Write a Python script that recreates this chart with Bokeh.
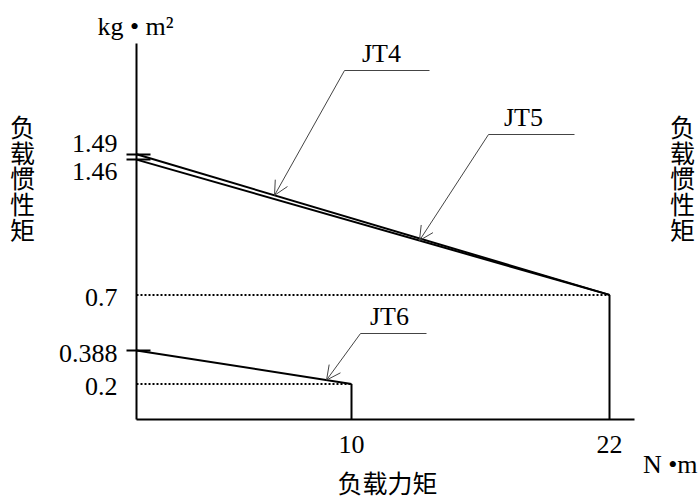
import numpy as np
from bokeh.plotting import figure
from bokeh.models import Range1d, FixedTicker, Label, Arrow, OpenHead
from bokeh.embed import file_html
from bokeh.resources import INLINE

# ---- data ----
series_names = ["JT4", "JT5", "JT6"]
torque_jt4 = [0, 22]
inertia_jt4 = [1.49, 0.7]
torque_jt5 = [0, 22]
inertia_jt5 = [1.46, 0.7]
torque_jt6 = [0, 10]
inertia_jt6 = [0.388, 0.2]

y_tick_values = [1.49, 1.46, 0.7, 0.388, 0.2]
y_tick_labels = ["1.49", "1.46", "0.7", "0.388", "0.2"]
y_marked_ticks = [1.49, 1.46, 0.388]
x_tick_values = [10, 22]
x_tick_labels = ["10", "22"]

# ---- layout (the frame fills the whole canvas; axes sit at data 0) ----
W, H = 699, 501
X0_PX, Y0_PX = 136, 419          # canvas px of data origin
PXX, PXY = 21.5, 178.0           # px per data unit
AX_RIGHT_PX, AX_TOP_PX = 634, 43


def dx(px):
    return (px - X0_PX) / PXX


def dy(py):
    return (Y0_PX - py) / PXY


SERIF = "Liberation Serif"
CJK = "Noto Sans CJK SC"
INK = "black"
LEAD = "#444444"

p = figure(width=W, height=H,
           x_range=Range1d(dx(0), dx(W)), y_range=Range1d(dy(H), dy(0)),
           output_backend="svg", toolbar_location=None)
p.min_border = 0
p.xgrid.visible = False
p.ygrid.visible = False
p.outline_line_color = None
p.background_fill_color = "white"
p.border_fill_color = "white"

# axes, pinned at the origin
p.yaxis.fixed_location = 0
p.yaxis.bounds = (0, dy(AX_TOP_PX))
p.yaxis.ticker = FixedTicker(ticks=y_marked_ticks)
p.yaxis.major_tick_in = 14
p.yaxis.major_tick_out = 10
p.yaxis.major_tick_line_width = 2
p.yaxis.major_tick_line_color = INK
p.yaxis.minor_tick_line_color = None
p.yaxis.major_label_text_color = None
p.yaxis.axis_line_width = 2
p.yaxis.axis_line_color = INK

p.xaxis.fixed_location = 0
p.xaxis.bounds = (0, dx(AX_RIGHT_PX))
p.xaxis.ticker = FixedTicker(ticks=x_tick_values)
p.xaxis.major_label_overrides = {v: s for v, s in zip(x_tick_values, x_tick_labels)}
p.xaxis.major_tick_in = 0
p.xaxis.major_tick_out = 0
p.xaxis.minor_tick_line_color = None
p.xaxis.major_label_standoff = 16
p.xaxis.major_label_text_font = SERIF
p.xaxis.major_label_text_font_size = "26px"
p.xaxis.major_label_text_color = INK
p.xaxis.axis_line_width = 2
p.xaxis.axis_line_color = INK

# curves
series = [(torque_jt4, inertia_jt4), (torque_jt5, inertia_jt5), (torque_jt6, inertia_jt6)]
for xs, ys in series:
    p.line(xs, ys, line_width=2, line_color=INK)

# drop lines and dotted guides at the curve ends
ends = [(torque_jt4[-1], inertia_jt4[-1]), (torque_jt6[-1], inertia_jt6[-1])]
p.segment(x0=[e[0] for e in ends], y0=[e[1] for e in ends],
          x1=[e[0] for e in ends], y1=[0 for _ in ends], line_width=2, line_color=INK)
p.segment(x0=[0 for _ in ends], y0=[e[1] for e in ends],
          x1=[e[0] for e in ends], y1=[e[1] for e in ends],
          line_width=2, line_color=INK, line_dash="2 2")

# y tick labels
nudge = {"1.49": -14, "1.46": 9}
for v, s in zip(y_tick_values, y_tick_labels):
    py = Y0_PX - v * PXY + 3 + nudge.get(s, 0)
    p.add_layout(Label(x=dx(117), y=dy(py), text=s, text_align="right",
                       text_baseline="middle", text_font=SERIF,
                       text_font_size="26px", text_color=INK))

# leaders with series names
leader = {
    "JT4": dict(tip=6.42, ul=(344, 429, 70), txt=(381, 53)),
    "JT5": dict(tip=13.16, ul=(488, 574, 134), txt=(523, 117)),
    "JT6": dict(tip=8.84, ul=(360, 426, 333), txt=(389, 316)),
}
for name, (xs, ys) in zip(series_names, series):
    c = leader[name]
    xt = c["tip"]
    yt = float(np.interp(xt, xs, ys))
    x0, x1, uy = c["ul"]
    p.add_layout(Arrow(start=None, end=None, x_start=dx(x0), y_start=dy(uy),
                       x_end=dx(x1), y_end=dy(uy), line_width=1, line_color=LEAD))
    p.add_layout(Arrow(start=None,
                       end=OpenHead(size=14, line_width=1, line_color=LEAD),
                       x_start=dx(x0), y_start=dy(uy), x_end=xt, y_end=yt,
                       line_width=1, line_color=LEAD))
    tx, ty = c["txt"]
    p.add_layout(Label(x=dx(tx), y=dy(ty), text=name, text_align="center",
                       text_baseline="middle", text_font=SERIF,
                       text_font_size="26px", text_color=INK))

# units and axis titles
p.add_layout(Label(x=dx(135), y=dy(26), text="kg • m²", text_align="center",
                   text_baseline="middle", text_font=SERIF, text_font_size="26px",
                   text_color=INK))
p.add_layout(Label(x=dx(697), y=dy(464), text="N •m", text_align="right",
                   text_baseline="middle", text_font=SERIF, text_font_size="26px",
                   text_color=INK))
p.add_layout(Label(x=dx(387), y=dy(481), text="负载力矩", text_align="center",
                   text_baseline="middle", text_font=CJK, text_font_size="25px",
                   text_color=INK))
vert = "\n".join("负载惯性矩")
for cx in (22, 682):
    p.add_layout(Label(x=dx(cx), y=dy(177), text=vert, text_align="center",
                       text_baseline="middle", text_font=CJK, text_font_size="25px",
                       text_line_height=0.72, text_color=INK))

open("out.html", "w").write(file_html(p, INLINE))
